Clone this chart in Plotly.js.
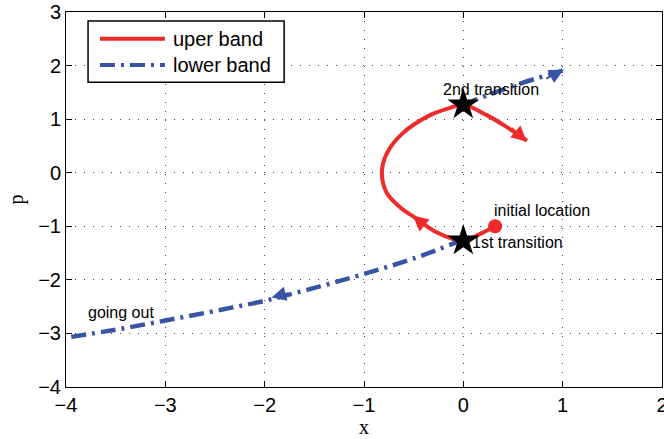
<!DOCTYPE html>
<html>
<head>
<meta charset="utf-8">
<script src="https://cdn.plot.ly/plotly-3.0.1.min.js"></script>
<style>html,body{margin:0;padding:0;background:#fff}</style>
</head>
<body>
<div id="chart" style="width:664px;height:439px"></div>
<script>
// Upper band trajectory: from the initial location, through the 1st transition,
// looping left and back up to the 2nd transition, then heading down-right.
const upperX = [0.32, 0.15, 0.0, -0.27, -0.47, -0.64, -0.77, -0.82, -0.77, -0.62, -0.34, -0.15, 0.0, 0.24, 0.44, 0.64];
const upperY = [-1.0, -1.16, -1.27, -1.11, -0.86, -0.64, -0.38, 0.0, 0.36, 0.72, 1.07, 1.20, 1.27, 1.07, 0.85, 0.60];

// Lower band: branch leaving the 1st transition toward -x, and the branch after the 2nd transition.
const lowerOutX = [0.0, -0.5, -1.0, -1.5, -2.0, -2.5, -3.0, -3.5, -4.0];
const lowerOutY = [-1.25, -1.60, -1.89, -2.15, -2.39, -2.58, -2.76, -2.93, -3.08];
const lowerUpX = [0.0, 0.5, 1.01];
const lowerUpY = [1.27, 1.62, 1.91];

// Transition points and the starting point
const transX = [0.0, 0.0];
const transY = [-1.27, 1.27];
const startX = [0.32];
const startY = [-1.0];

// Direction arrows (tip and tail in data units)
const arrowTipX  = [-0.51, 0.64, -1.93, 1.01];
const arrowTipY  = [-0.80, 0.58, -2.33, 1.92];
const arrowTailX = [-0.40, 0.47, -1.75, 0.82];
const arrowTailY = [-0.97, 0.86, -2.24, 1.74];
const arrowBand  = ['upper', 'upper', 'lower', 'lower'];

// Text labels
const labelText = ['2nd transition', 'initial location', '1st transition', 'going out'];
const labelX = [0.28, 0.79, 0.55, -3.45];
const labelY = [1.55, -0.70, -1.30, -2.61];

// Legend entries
const legendNames = ['uper band', 'lower band'];

const RED = '#ee2a2a';
const BLUE = '#3a54a5';
const DASH = '15px,6px,3px,6px';
const SANS = 'Liberation Sans, Arial, sans-serif';
const SERIF = 'Liberation Serif, Times New Roman, serif';

const traces = [
  {x: upperX, y: upperY, mode: 'lines', name: legendNames[0],
   line: {color: RED, width: 4, shape: 'spline', smoothing: 1}},
  {x: lowerOutX, y: lowerOutY, mode: 'lines', name: legendNames[1],
   line: {color: BLUE, width: 4.5, dash: DASH, shape: 'spline'}},
  {x: lowerUpX, y: lowerUpY, mode: 'lines',
   line: {color: BLUE, width: 4.5, dash: DASH, shape: 'spline'}},
  {x: startX, y: startY, mode: 'markers',
   marker: {color: RED, size: 14, symbol: 'circle'}},
  {x: transX, y: transY, mode: 'markers',
   marker: {color: '#000', size: 24, symbol: 'star'}}
];

const annotations = [];
for (let i = 0; i < arrowTipX.length; i++) {
  const up = arrowBand[i] === 'upper';
  annotations.push({
    x: arrowTipX[i], y: arrowTipY[i], ax: arrowTailX[i], ay: arrowTailY[i],
    xref: 'x', yref: 'y', axref: 'x', ayref: 'y', text: '',
    showarrow: true, arrowhead: 2, arrowsize: up ? 1.55 : 1.45, arrowwidth: 2,
    arrowcolor: up ? RED : BLUE
  });
}
for (let i = 0; i < labelText.length; i++) {
  annotations.push({
    x: labelX[i], y: labelY[i], xref: 'x', yref: 'y', text: labelText[i],
    showarrow: false, font: {family: SANS, size: 16, color: '#000'}
  });
}

// Boxed legend in the upper-left corner (paper coordinates)
const legBox = {x0: 0.037, x1: 0.366, y0: 0.813, y1: 0.976};
const legRowY = [0.929, 0.859];
const legLineX = [0.057, 0.166];
const legTextX = 0.176;
const legColors = [RED, BLUE];
const legDash = ['solid', DASH];

const shapes = [{
  type: 'rect', xref: 'paper', yref: 'paper',
  x0: legBox.x0, x1: legBox.x1, y0: legBox.y0, y1: legBox.y1,
  line: {color: '#000', width: 1.5}, fillcolor: '#fff', layer: 'above'
}];
for (let i = 0; i < legendNames.length; i++) {
  shapes.push({
    type: 'line', xref: 'paper', yref: 'paper',
    x0: legLineX[0], x1: legLineX[1], y0: legRowY[i], y1: legRowY[i],
    line: {color: legColors[i], width: 4, dash: legDash[i]}, layer: 'above'
  });
  annotations.push({
    xref: 'paper', yref: 'paper', x: legTextX, y: legRowY[i],
    xanchor: 'left', yanchor: 'middle', text: legendNames[i], showarrow: false,
    font: {family: SANS, size: 20, color: '#000'}
  });
}

const axisCommon = {
  showline: true, linecolor: '#000', linewidth: 1, mirror: 'allticks',
  ticks: 'inside', ticklen: 6, tickcolor: '#000', dtick: 1,
  showgrid: true, gridcolor: '#444', gridwidth: 1, griddash: '1px,8px',
  zeroline: false, ticklabeloverflow: 'allow',
  tickfont: {family: SANS, size: 20, color: '#000'}
};

const layout = {
  width: 664, height: 439,
  margin: {l: 66, r: 2, t: 12, b: 52},
  paper_bgcolor: '#fff', plot_bgcolor: '#fff',
  xaxis: Object.assign({}, axisCommon, {
    range: [-4, 2], tick0: -4,
    title: {text: 'x', font: {family: SERIF, size: 20, color: '#000'}, standoff: 2}
  }),
  yaxis: Object.assign({}, axisCommon, {
    range: [-4, 3], tick0: -4,
    title: {text: 'p', font: {family: SERIF, size: 20, color: '#000'}, standoff: 9}
  }),
  showlegend: false,
  shapes: shapes,
  annotations: annotations
};

Plotly.newPlot('chart', traces, layout, {displayModeBar: false, staticPlot: true});
</script>
</body>
</html>
